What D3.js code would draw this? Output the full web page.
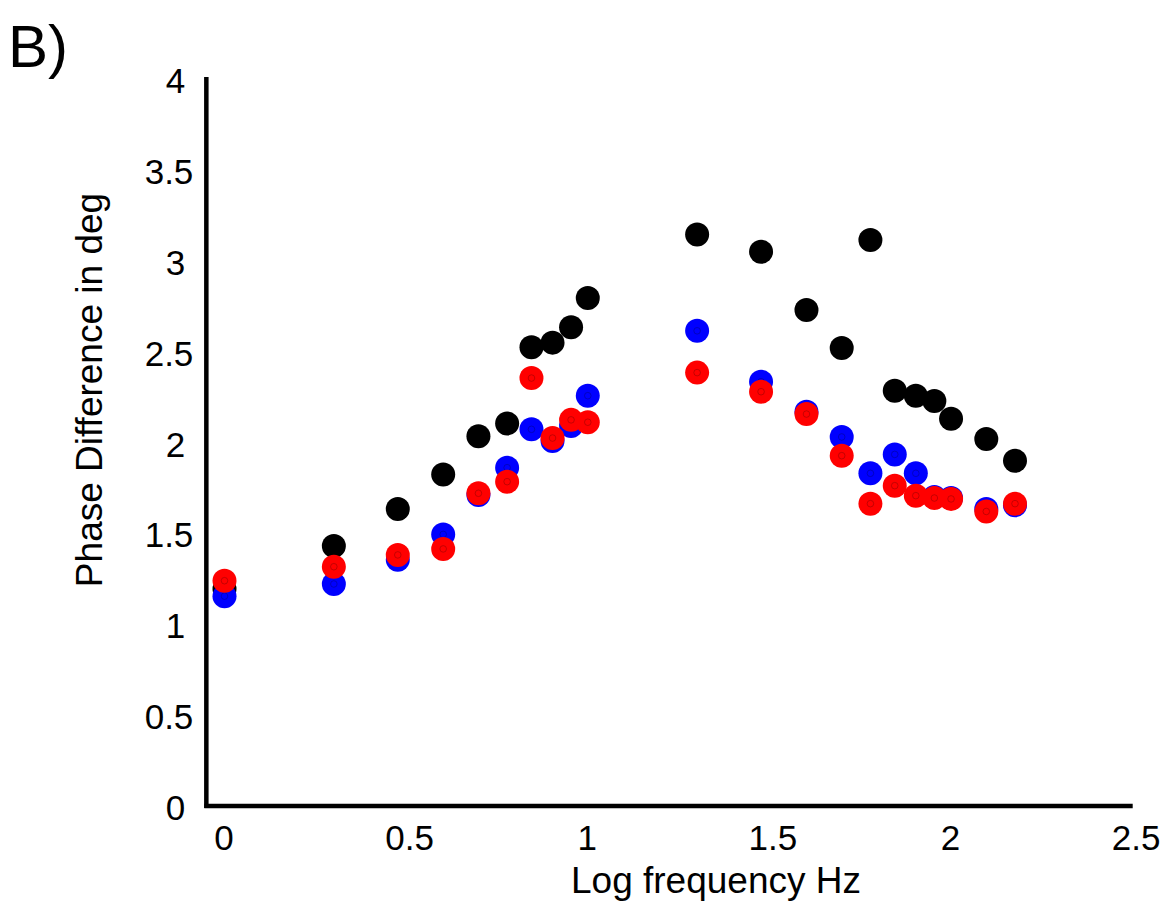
<!DOCTYPE html>
<html>
<head>
<meta charset="utf-8">
<script src="https://cdn.jsdelivr.net/npm/d3@7"></script>
<style>
  body { margin: 0; background: #fff; }
  text { font-family: "Liberation Sans", Arial, sans-serif; fill: #000; }
</style>
</head>
<body>
<div id="chart"></div>
<script>
// log10 of stimulus frequency (1..10, 20..100, 125, 150 Hz)
const logFreq = [0, 0.301, 0.477, 0.602, 0.699, 0.778, 0.845, 0.903, 0.954, 1,
  1.301, 1.477, 1.602, 1.699, 1.778, 1.845, 1.903, 1.954, 2, 2.097, 2.176];

const blackSeries = [1.20, 1.436, 1.64, 1.83, 2.04, 2.11, 2.53, 2.555, 2.64, 2.80,
  3.15, 3.055, 2.735, 2.525, 3.12, 2.29, 2.263, 2.234, 2.136, 2.025, 1.905];
const blueSeries = [1.16, 1.227, 1.36, 1.50, 1.717, 1.867, 2.078, 2.014, 2.096, 2.263,
  2.62, 2.34, 2.175, 2.036, 1.836, 1.94, 1.836, 1.706, 1.70, 1.64, 1.66];
const redSeries = [1.245, 1.322, 1.387, 1.42, 1.726, 1.79, 2.36, 2.03, 2.13, 2.117,
  2.39, 2.285, 2.162, 1.933, 1.669, 1.768, 1.713, 1.70, 1.695, 1.626, 1.669];

const xTicks = [0, 0.5, 1, 1.5, 2, 2.5];
const yTicks = [0, 0.5, 1, 1.5, 2, 2.5, 3, 3.5, 4];

const width = 1168, height = 907;

const x = d3.scaleLinear().domain([0, 2.5]).range([224.5, 1132.7]);
const y = d3.scaleLinear().domain([0, 4]).range([807, 80]);

const svg = d3.select('#chart').append('svg')
  .attr('width', width)
  .attr('height', height);

// panel label
svg.append('text')
  .attr('x', 8)
  .attr('y', 67)
  .attr('font-size', 60)
  .text('B)');

// axis lines
svg.append('line')
  .attr('x1', x(-0.05)).attr('x2', x(-0.05))
  .attr('y1', y(4.016)).attr('y2', y(0) + 1)
  .attr('stroke', '#000').attr('stroke-width', 4.5);

svg.append('line')
  .attr('x1', x(-0.05) - 2).attr('x2', x(2.5))
  .attr('y1', y(0) - 1).attr('y2', y(0) - 1)
  .attr('stroke', '#000').attr('stroke-width', 4.5);

// tick labels (no tick marks in the original)
const fmt = d3.format('');
svg.append('g')
  .attr('transform', `translate(0,${y(0)})`)
  .call(d3.axisBottom(x).tickValues(xTicks).tickSize(0).tickPadding(0).tickFormat(fmt))
  .call((g) => g.select('.domain').remove())
  .call((g) => g.selectAll('text')
    .attr('font-size', 35)
    .attr('font-family', '"Liberation Sans", Arial, sans-serif')
    .attr('fill', '#000')
    .attr('dy', 0)
    .attr('y', 43)
    .attr('dx', (d) => (Number.isInteger(d) ? -1 : 3)));

svg.append('g')
  .attr('transform', `translate(${x(-0.05)},0)`)
  .call(d3.axisLeft(y).tickValues(yTicks).tickSize(0).tickPadding(0).tickFormat(fmt))
  .call((g) => g.select('.domain').remove())
  .call((g) => g.selectAll('text')
    .attr('font-size', 35)
    .attr('font-family', '"Liberation Sans", Arial, sans-serif')
    .attr('fill', '#000')
    .attr('x', (d) => (Number.isInteger(d) ? -21 : -13))
    .attr('dy', '0.36em'));

// axis titles
svg.append('text')
  .attr('x', 716)
  .attr('y', 893)
  .attr('text-anchor', 'middle')
  .attr('font-size', 37)
  .text('Log frequency Hz');

svg.append('text')
  .attr('transform', `translate(102,${390}) rotate(-90)`)
  .attr('text-anchor', 'middle')
  .attr('font-size', 37)
  .text('Phase Difference in deg');

// series, drawn black first, red on top
const series = [
  { name: 'black', values: blackSeries, fill: '#000000', inner: null },
  { name: 'blue', values: blueSeries, fill: '#0000ff', inner: '#00009a' },
  { name: 'red', values: redSeries, fill: '#ff0000', inner: '#a00000' },
];

series.forEach((s) => {
  const pts = logFreq.map((f, i) => ({ f, v: s.values[i] }));
  const g = svg.append('g').attr('class', `series-${s.name}`);
  g.selectAll('circle.dot')
    .data(pts)
    .join('circle')
    .attr('class', 'dot')
    .attr('cx', (d) => x(d.f))
    .attr('cy', (d) => y(d.v))
    .attr('r', 12)
    .attr('fill', s.fill);
  if (s.inner) {
    g.selectAll('circle.inner')
      .data(pts)
      .join('circle')
      .attr('class', 'inner')
      .attr('cx', (d) => x(d.f))
      .attr('cy', (d) => y(d.v))
      .attr('r', 3.3)
      .attr('fill', 'none')
      .attr('stroke', s.inner)
      .attr('stroke-width', 0.6);
  }
});
</script>
</body>
</html>
